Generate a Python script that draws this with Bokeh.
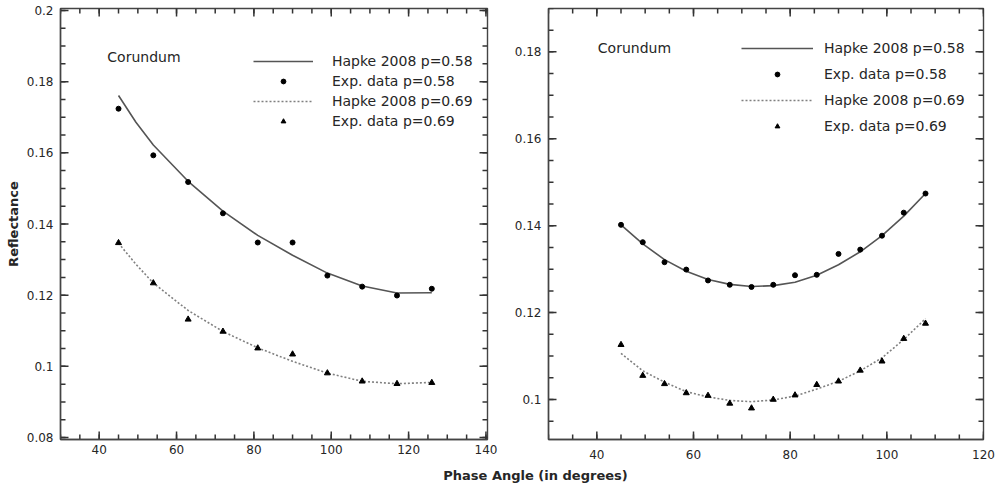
import numpy as np
from bokeh.plotting import figure
from bokeh.models import (Range1d, FixedTicker, LinearAxis, Legend, LegendItem, Label)
from bokeh.layouts import column, row
from bokeh.embed import file_html
from bokeh.resources import INLINE

# ---------------- data ----------------
left_angle = [45, 54, 63, 72, 81, 90, 99, 108, 117, 126]
left_exp_p058 = [0.1724, 0.1593, 0.1518, 0.1430, 0.1348, 0.1348, 0.1255, 0.1224, 0.1199, 0.1218]
left_exp_p069 = [0.1347, 0.1234, 0.1132, 0.1098, 0.1051, 0.1034, 0.0981, 0.0958, 0.0951, 0.0954]
left_model_angle = [45, 49.5, 54, 63, 72, 81, 90, 99, 108, 117, 126]
left_model_p058 = [0.1761, 0.1686, 0.1622, 0.1520, 0.1436, 0.1368, 0.1312, 0.1262, 0.1226, 0.1206, 0.1207]
left_model_p069 = [0.1346, 0.1287, 0.1234, 0.1157, 0.1098, 0.1052, 0.1014, 0.0981, 0.0958, 0.0951, 0.0955]

right_angle = [45, 49.5, 54, 58.5, 63, 67.5, 72, 76.5, 81, 85.5, 90, 94.5, 99, 103.5, 108]
right_model_p058 = [0.1402, 0.1358, 0.1322, 0.1295, 0.1276, 0.1265, 0.1260, 0.1262, 0.1270,
                    0.1286, 0.1310, 0.1340, 0.1377, 0.1422, 0.1474]
right_exp_p058 = [0.1402, 0.1362, 0.1316, 0.1299, 0.1274, 0.1264, 0.1259, 0.1264, 0.1286,
                  0.1287, 0.1335, 0.1345, 0.1377, 0.1430, 0.1474]
right_model_p069 = [0.1106, 0.1066, 0.1040, 0.1018, 0.1006, 0.0998, 0.0995, 0.0999, 0.1008,
                    0.1024, 0.1042, 0.1066, 0.1096, 0.1138, 0.1186]
right_exp_p069 = [0.1126, 0.1055, 0.1036, 0.1015, 0.1009, 0.0991, 0.0980, 0.1000, 0.1010,
                  0.1034, 0.1042, 0.1067, 0.1088, 0.1140, 0.1175]

left_xticks = [40, 60, 80, 100, 120, 140]
left_xlabels = ["40", "60", "80", "100", "120", "140"]
left_yticks = [0.08, 0.1, 0.12, 0.14, 0.16, 0.18, 0.2]
left_ylabels = ["0.08", "0.1", "0.12", "0.14", "0.16", "0.18", "0.2"]
right_xticks = [40, 60, 80, 100, 120]
right_xlabels = ["40", "60", "80", "100", "120"]
right_yticks = [0.1, 0.12, 0.14, 0.16, 0.18]
right_ylabels = ["0.1", "0.12", "0.14", "0.16", "0.18"]

legend_labels = ["Hapke 2008 p=0.58", "Exp. data p=0.58", "Hapke 2008 p=0.69", "Exp. data p=0.69"]
sample_name = "Corundum"
x_title = "Phase Angle (in degrees)"
y_title = "Reflectance"

FONT = "DejaVu Sans"
TXT = "#262626"
AX = "#444444"
TICK = "#333333"

FIG_W, FIG_H = 500, 465
B_TOP, B_BOTTOM = 8, 26


def style_axis(ax, ticks, labels):
    ax.ticker = FixedTicker(ticks=ticks)
    ax.major_label_overrides = {t: l for t, l in zip(ticks, labels)}
    ax.axis_line_color = AX
    ax.axis_line_width = 1.4
    ax.major_tick_in = 0
    ax.major_tick_out = 0
    ax.minor_tick_in = 0
    ax.minor_tick_out = 0
    ax.major_label_text_font = FONT
    ax.major_label_text_color = TXT
    ax.major_label_text_font_size = "12px"


def draw_ticks(p, xr, yr, fw, fh, xt, xminor, yt, yminor):
    """inward tick marks on all four frame edges"""
    dx = (xr[1] - xr[0]) / fw
    dy = (yr[1] - yr[0]) / fh
    for vals, ln in ((xt, 8), (xminor, 5)):
        vals = [float(v) for v in vals]
        n = len(vals)
        p.segment(x0=vals, x1=vals, y0=[yr[0]] * n, y1=[yr[0] + ln * dy] * n,
                  line_color=TICK, line_width=1.5)
        p.segment(x0=vals, x1=vals, y0=[yr[1]] * n, y1=[yr[1] - ln * dy] * n,
                  line_color=TICK, line_width=1.5)
    for vals, ln in ((yt, 8), (yminor, 5)):
        vals = [float(v) for v in vals]
        n = len(vals)
        p.segment(x0=[xr[0]] * n, x1=[xr[0] + ln * dx] * n, y0=vals, y1=vals,
                  line_color=TICK, line_width=1.5)
        p.segment(x0=[xr[1]] * n, x1=[xr[1] - ln * dx] * n, y0=vals, y1=vals,
                  line_color=TICK, line_width=1.5)


def panel(b_left, b_right, xr, yr, xt, xl, yt, yl, xminor, yminor, x_standoff,
          m_angle, m58, m69, e_angle, e58, e69, legend_loc, gw, spacing, lstand, corundum_xy):
    p = figure(width=FIG_W, height=FIG_H, x_range=Range1d(*xr), y_range=Range1d(*yr),
               toolbar_location=None, output_backend="svg",
               min_border_left=b_left, min_border_right=b_right,
               min_border_top=B_TOP, min_border_bottom=B_BOTTOM,
               x_axis_location=None, y_axis_location=None)
    p.grid.visible = False
    p.outline_line_color = AX
    p.outline_line_width = 1.4
    p.background_fill_color = "white"
    p.border_fill_color = "white"

    xb = LinearAxis()
    style_axis(xb, xt, xl)
    xb.major_label_standoff = x_standoff
    p.add_layout(xb, "below")
    ya = LinearAxis()
    style_axis(ya, yt, yl)
    ya.major_label_standoff = 7
    p.add_layout(ya, "left")

    fw = FIG_W - b_left - b_right
    fh = FIG_H - B_TOP - B_BOTTOM
    draw_ticks(p, xr, yr, fw, fh, xt, xminor, yt, yminor)

    r1 = p.line(m_angle, m58, line_color="#555555", line_width=1.6)
    r2 = p.scatter(e_angle, e58, marker="circle", size=5, fill_color="black", line_color="black")
    r3 = p.line(m_angle, m69, line_color="#808080", line_width=1.6, line_dash="2 2")
    r4 = p.scatter(e_angle, e69, marker="triangle", size=6, fill_color="black", line_color="black")

    leg = Legend(items=[LegendItem(label=legend_labels[0], renderers=[r1]),
                        LegendItem(label=legend_labels[1], renderers=[r2]),
                        LegendItem(label=legend_labels[2], renderers=[r3]),
                        LegendItem(label=legend_labels[3], renderers=[r4])],
                 location=legend_loc, glyph_width=gw, glyph_height=12, label_height=12,
                 spacing=spacing, padding=0, margin=0, label_standoff=lstand,
                 border_line_alpha=0, background_fill_alpha=0,
                 label_text_font=FONT, label_text_font_size="14px", label_text_color=TXT)
    p.add_layout(leg)

    p.add_layout(Label(x=corundum_xy[0], y=corundum_xy[1], text=sample_name,
                       text_font=FONT, text_font_size="14px", text_color=TXT,
                       text_baseline="middle"))
    return p, ya


left_xminor = list(range(30, 145, 5))
left_yminor = [round(v, 3) for v in np.arange(0.08, 0.2001, 0.005)]
right_xminor = list(range(30, 125, 5))
right_yminor = [round(v, 3) for v in np.arange(0.095, 0.1901, 0.005)]

p1, p1y = panel(60, 13, (30, 140.4), (0.07944, 0.20056),
                left_xticks, left_xlabels, left_yticks, left_ylabels, left_xminor, left_yminor, 5,
                left_model_angle, left_model_p058, left_model_p069,
                left_angle, left_exp_p058, left_exp_p069,
                (193, 310), 60, 4, 19, (42.1, 0.1868))
p1y.axis_label = y_title
p1y.axis_label_text_font = FONT
p1y.axis_label_text_font_size = "13px"
p1y.axis_label_text_font_style = "bold"
p1y.axis_label_text_color = TXT
p1y.axis_label_standoff = 3

p2, p2y = panel(48, 17, (30, 120), (0.0908, 0.18998),
                right_xticks, right_xlabels, right_yticks, right_ylabels, right_xminor, right_yminor, 10,
                right_angle, right_model_p058, right_model_p069,
                right_angle, right_exp_p058, right_exp_p069,
                (193, 305), 72, 10, 11, (40.2, 0.1809))

p3 = figure(width=1000, height=24, x_range=Range1d(0, 1000), y_range=Range1d(0, 24),
            toolbar_location=None, output_backend="svg", min_border=0,
            x_axis_location=None, y_axis_location=None)
p3.grid.visible = False
p3.outline_line_color = None
p3.add_layout(Label(x=535, y=14, x_units="screen", y_units="screen", text=x_title,
                    text_font=FONT, text_font_size="13px", text_font_style="bold",
                    text_color=TXT, text_align="center", text_baseline="middle"))

layout = column(row(p1, p2), p3)
open("out.html", "w").write(file_html(layout, INLINE))
